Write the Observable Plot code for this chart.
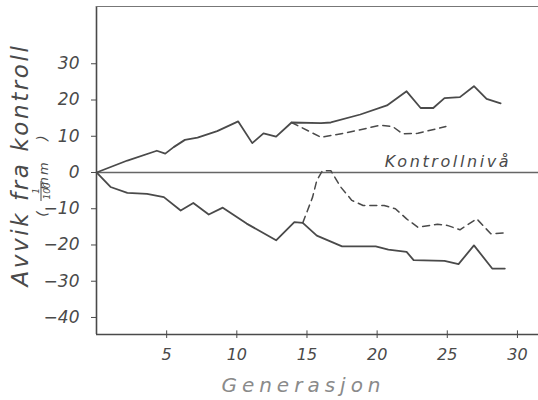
<!DOCTYPE html>
<html>
<head>
<meta charset="utf-8">
<script src="https://cdn.jsdelivr.net/npm/d3@7"></script>
<script src="https://cdn.jsdelivr.net/npm/@observablehq/plot@0.6"></script>
<style>
  html, body { margin: 0; padding: 0; background: #fff; }
  #chart svg { display: block; }
</style>
</head>
<body>
<div id="chart"></div>
<script>
// Selection lines: deviation from control level per generation (1/100 mm)
const upSolidGen = [0, 2.2, 4.3, 4.9, 5.5, 6.3, 7.2, 8.6, 10.1, 11.1, 11.9, 12.8, 13.9, 16.0, 16.7, 18.8, 20.7, 22.1, 23.1, 24.0, 24.8, 25.9, 26.9, 27.8, 28.8];
const upSolidVal = [0, 3.3, 6, 5.2, 7, 9, 9.6, 11.4, 14.1, 8.1, 10.8, 9.9, 13.8, 13.6, 13.8, 16, 18.5, 22.4, 17.8, 17.8, 20.5, 20.8, 23.8, 20.3, 19.1];

const upDashGen = [13.9, 16.0, 17.6, 20.2, 21.1, 21.8, 22.9, 24.9];
const upDashVal = [13.8, 9.7, 10.8, 13, 12.7, 10.7, 10.8, 12.7];

const lowSolidGen = [0, 1.0, 2.2, 3.6, 4.8, 6.0, 6.9, 8.0, 9.0, 10.7, 12.8, 14.1, 14.7, 15.7, 17.5, 19.9, 20.8, 22.1, 22.6, 24.8, 25.8, 26.9, 28.2, 29.1];
const lowSolidVal = [0, -4, -5.6, -5.9, -6.8, -10.5, -8.4, -11.6, -9.7, -14.1, -18.7, -13.7, -13.9, -17.4, -20.4, -20.4, -21.3, -21.9, -24.2, -24.4, -25.3, -20.1, -26.5, -26.5];

const lowDashGen = [14.7, 15.4, 15.7, 16.1, 16.7, 17.4, 18.2, 19.0, 20.5, 21.3, 22.1, 22.9, 24.3, 25.0, 25.9, 27.1, 28.1, 29.1];
const lowDashVal = [-13.9, -6.8, -2.2, 0.5, 0.5, -4, -7.7, -9.1, -9.1, -10, -12.8, -15.1, -14.3, -14.6, -15.8, -12.8, -16.9, -16.7];

const xTicks = [5, 10, 15, 20, 25, 30];
const yTicks = [-40, -30, -20, -10, 0, 10, 20, 30];

const xDomain = [0, 31.5];
const yDomain = [-44.7, 45.8];

const pts = (g, v) => g.map((x, i) => ({x, y: v[i]}));

const ink = "#4a4a4a";
const font = "'DejaVu Sans', sans-serif";

const chart = Plot.plot({
  width: 538,
  height: 400,
  marginLeft: 96,
  marginRight: 0,
  marginTop: 6,
  marginBottom: 66,
  x: {domain: xDomain},
  y: {domain: yDomain},
  style: {fontFamily: font, color: ink, background: "#fff"},
  marks: [
    // frame: left, top, bottom
    Plot.ruleX([xDomain[0]], {stroke: ink, strokeWidth: 1.6}),
    Plot.ruleY([yDomain[1]], {stroke: "#777", strokeWidth: 1.2}),
    Plot.ruleY([yDomain[0]], {stroke: ink, strokeWidth: 1.6}),
    // control level
    Plot.ruleY([0], {stroke: "#666", strokeWidth: 1.3}),
    Plot.axisY({
      ticks: yTicks, tickSize: 5, tickPadding: 12,
      tickFormat: d => d < 0 ? "\u2212" + Math.abs(d) : String(d),
      label: null, fontSize: 17, fontStyle: "italic", stroke: ink
    }),
    Plot.axisX({
      ticks: xTicks, tickSize: 4, tickPadding: 10, label: null,
      fontSize: 16, fontStyle: "italic", stroke: ink
    }),
    // short ticks rising above the x axis
    Plot.ruleX(xTicks, {x: d => d, y1: yDomain[0], y2: yDomain[0] + 1, stroke: ink, strokeWidth: 1}),
    Plot.line(pts(upSolidGen, upSolidVal), {x: "x", y: "y", stroke: ink, strokeWidth: 1.8}),
    Plot.line(pts(lowSolidGen, lowSolidVal), {x: "x", y: "y", stroke: ink, strokeWidth: 1.8}),
    Plot.line(pts(upDashGen, upDashVal), {x: "x", y: "y", stroke: ink, strokeWidth: 1.5, strokeDasharray: "7,5"}),
    Plot.line(pts(lowDashGen, lowDashVal), {x: "x", y: "y", stroke: ink, strokeWidth: 1.5, strokeDasharray: "7,5"}),
    Plot.text(["Kontrollnivå"], {x: 25.05, y: 0, dy: -11, text: d => d, fontSize: 16, fontStyle: "italic", fill: ink, textAnchor: "middle"}),
    Plot.text(["Generasjon"], {frameAnchor: "bottom", x: 14.75, dy: 51, text: d => d, fontSize: 20, fontStyle: "italic", fill: "#8a8a8a", lineAnchor: "middle", textAnchor: "middle"}),
    Plot.text(["Avvik fra kontroll"], {frameAnchor: "left", y: 2.07, dx: -76, rotate: -90, text: d => d, fontSize: 23, fontStyle: "italic", fill: ink, lineAnchor: "middle", textAnchor: "middle"})
  ]
});

// letter spacing for the hand-lettered labels
const spacing = {"Kontrollnivå": 2.6, "Generasjon": 5, "Avvik fra kontroll": 2.6};
d3.select(chart).selectAll("text")
  .filter(function() { return this.textContent in spacing; })
  .attr("letter-spacing", function() { return spacing[this.textContent]; });

// unit "(1/100 mm)" beside the y label, written bottom-to-top
const unit = d3.select(chart).append("g")
  .attr("transform", "translate(42,172) rotate(-90)")
  .attr("fill", ink)
  .attr("font-family", font)
  .attr("font-style", "italic");
unit.append("text").attr("x", -42).attr("y", 5).attr("font-size", 14).text("(");
unit.append("text").attr("x", -19).attr("y", -3).attr("font-size", 9).attr("text-anchor", "middle").text("1");
unit.append("line").attr("x1", -29).attr("x2", -9).attr("y1", -1).attr("y2", -1).attr("stroke", ink).attr("stroke-width", 1);
unit.append("text").attr("x", -19).attr("y", 8).attr("font-size", 9).attr("text-anchor", "middle").text("100");
unit.append("text").attr("x", -3).attr("y", 6).attr("font-size", 13).attr("letter-spacing", 2).text("mm");
unit.append("text").attr("x", 34).attr("y", 5).attr("font-size", 14).text(")");

document.getElementById("chart").append(chart);
</script>
</body>
</html>
